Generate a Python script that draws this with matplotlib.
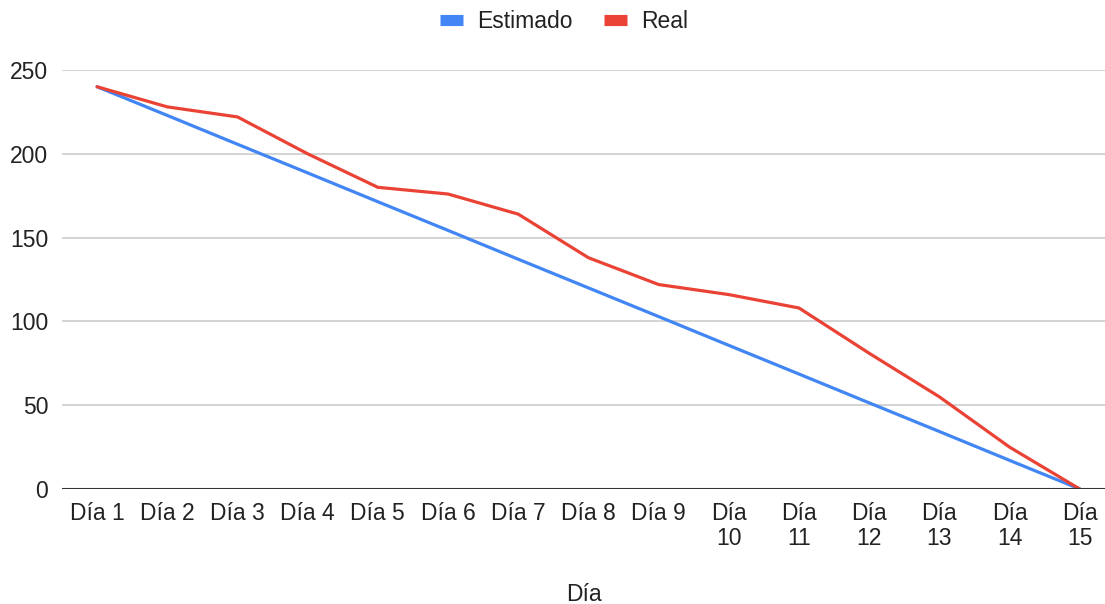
import matplotlib.pyplot as plt
from matplotlib.lines import Line2D

plt.rcParams['font.family'] = ['Liberation Sans', 'DejaVu Sans']

dias = ['Día 1', 'Día 2', 'Día 3', 'Día 4', 'Día 5', 'Día 6', 'Día 7', 'Día 8',
        'Día 9', 'Día\n10', 'Día\n11', 'Día\n12', 'Día\n13', 'Día\n14', 'Día\n15']
estimado = [240, 222.9, 205.7, 188.6, 171.4, 154.3, 137.1, 120,
            102.9, 85.7, 68.6, 51.4, 34.3, 17.1, 0]
real = [240, 228, 222, 200, 180, 176, 164, 138,
        122, 116, 108, 81, 55, 25, 0]

AZUL = '#4285F4'
ROJO = '#EA4335'

fig = plt.figure(figsize=(11.05, 6.04), dpi=100)
ax = fig.add_axes([62 / 1105, 115 / 604, 1 - 62 / 1105, 419 / 604])

x = range(len(dias))
ax.plot(x, estimado, color=AZUL, lw=2.3, solid_capstyle='round', zorder=3)
ax.plot(x, real, color=ROJO, lw=2.3, solid_capstyle='round', zorder=4)

ax.set_xlim(-0.5, 14.36)
ax.set_ylim(0, 250)
ax.set_yticks([0, 50, 100, 150, 200, 250])
ax.set_xticks(list(x))
ax.set_xticklabels(dias, linespacing=1.12)

ax.grid(axis='y', color='#cccccc', lw=1.2)
ax.axhline(0, color='#333333', lw=1.5, zorder=5)
for s in ax.spines.values():
    s.set_visible(False)
ax.tick_params(axis='both', length=0, labelsize=16.5, colors='#222222')
ax.tick_params(axis='x', pad=9)
ax.tick_params(axis='y', pad=10)
ax.set_axisbelow(True)

ax.set_xlabel('Día', fontsize=16.5, color='#222222', labelpad=24)

handles = [Line2D([], [], color=AZUL, lw=8, solid_capstyle='butt'),
           Line2D([], [], color=ROJO, lw=8, solid_capstyle='butt')]
fig.legend(handles, ['Estimado', 'Real'], loc='center', bbox_to_anchor=(564 / 1105, 1 - 22 / 604),
           ncol=2, frameon=False, fontsize=16.5, handlelength=1.0, handletextpad=0.6,
           columnspacing=1.4, labelcolor='#222222')

fig.savefig('out.png', dpi=100)
